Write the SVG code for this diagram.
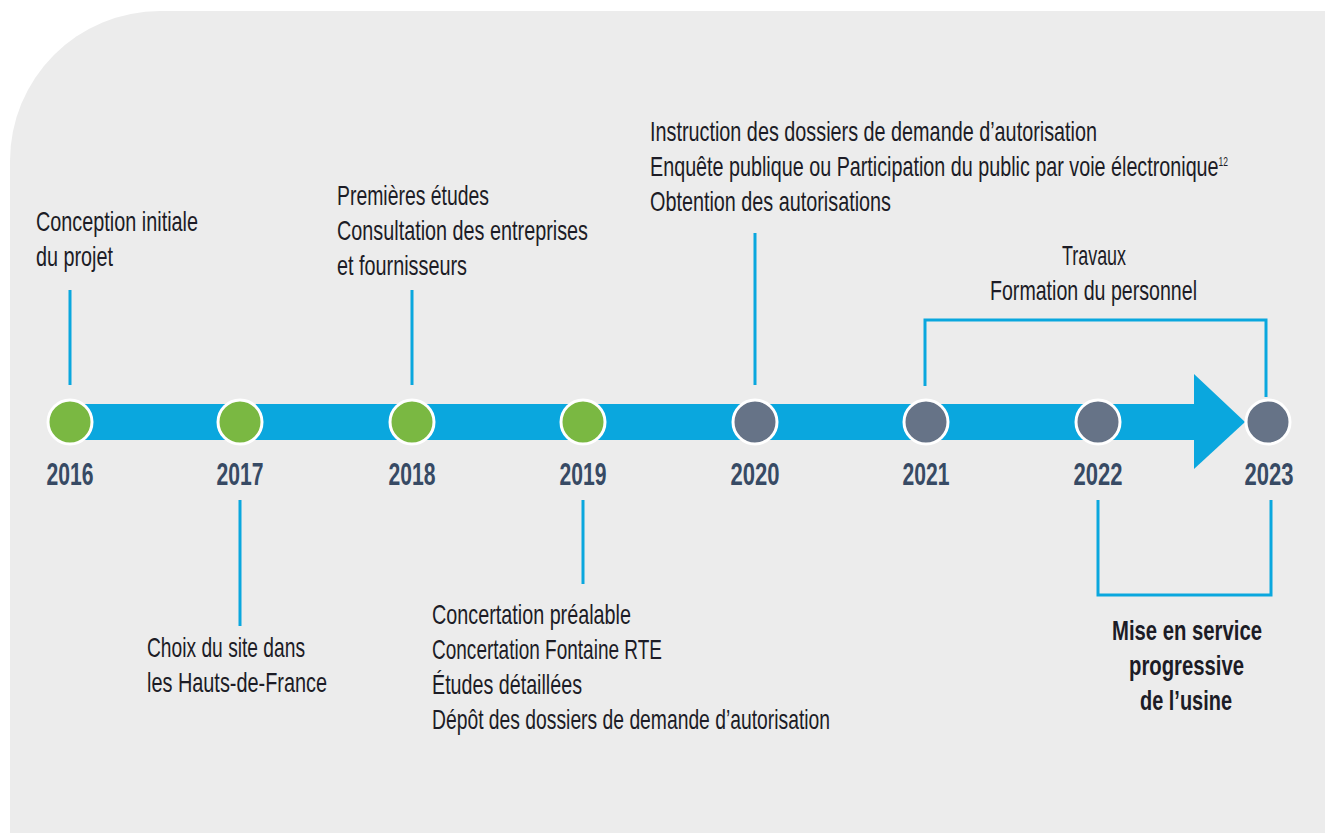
<svg xmlns="http://www.w3.org/2000/svg" width="1325" height="833" viewBox="0 0 1325 833">
  <style>
    .lbl { font-family: "Liberation Sans", Arial, sans-serif; font-size: 28px; fill: #1c1c26; }
    .bold { font-weight: bold; }
    .year { font-family: "Liberation Sans", Arial, sans-serif; font-size: 32px; font-weight: bold; fill: #374a64; text-anchor: middle; }
    .sup { font-size: 12px; }
    .link { fill: none; stroke: #0aa7de; stroke-width: 3; }
    .done { fill: #7ab842; stroke: #ffffff; stroke-width: 3; }
    .todo { fill: #667387; stroke: #ffffff; stroke-width: 3; }
  </style>

  <!-- panel background with rounded top-left corner -->
  <rect width="1325" height="833" fill="#ffffff"/>
  <path d="M10 833 V161 A150 150 0 0 1 160 11 H1325 V833 Z" fill="#ececec"/>

  <!-- timeline arrow -->
  <g id="timeline">
    <rect x="70" y="404" width="1126" height="36" fill="#0aa7de"/>
    <polygon points="1194,374 1245,422 1194,469" fill="#0aa7de"/>
  </g>

  <!-- connectors -->
  <g id="connectors">
    <line class="link" x1="70" y1="290" x2="70" y2="385"/>
    <line class="link" x1="412" y1="290" x2="412" y2="385"/>
    <line class="link" x1="755" y1="233" x2="755" y2="385"/>
    <line class="link" x1="240" y1="500" x2="240" y2="626"/>
    <line class="link" x1="583" y1="500" x2="583" y2="584"/>
    <path class="link" d="M925 386 V320 H1266 V397"/>
    <path class="link" d="M1098 500 V595 H1271 V500"/>
  </g>

  <!-- year nodes -->
  <g id="y2016">
    <circle class="done" cx="70" cy="422" r="22"/>
    <text class="year" x="70" y="485" textLength="47" lengthAdjust="spacingAndGlyphs">2016</text>
  </g>
  <g id="y2017">
    <circle class="done" cx="240" cy="422" r="22"/>
    <text class="year" x="240" y="485" textLength="47" lengthAdjust="spacingAndGlyphs">2017</text>
  </g>
  <g id="y2018">
    <circle class="done" cx="412" cy="422" r="22"/>
    <text class="year" x="412" y="485" textLength="47" lengthAdjust="spacingAndGlyphs">2018</text>
  </g>
  <g id="y2019">
    <circle class="done" cx="583" cy="422" r="22"/>
    <text class="year" x="583" y="485" textLength="47" lengthAdjust="spacingAndGlyphs">2019</text>
  </g>
  <g id="y2020">
    <circle class="todo" cx="755" cy="422" r="22"/>
    <text class="year" x="755" y="485" textLength="49" lengthAdjust="spacingAndGlyphs">2020</text>
  </g>
  <g id="y2021">
    <circle class="todo" cx="926" cy="422" r="22"/>
    <text class="year" x="926" y="485" textLength="47" lengthAdjust="spacingAndGlyphs">2021</text>
  </g>
  <g id="y2022">
    <circle class="todo" cx="1098" cy="422" r="22"/>
    <text class="year" x="1098" y="485" textLength="49" lengthAdjust="spacingAndGlyphs">2022</text>
  </g>
  <g id="y2023">
    <circle class="todo" cx="1268" cy="422" r="22"/>
    <text class="year" x="1269" y="485" textLength="49" lengthAdjust="spacingAndGlyphs">2023</text>
  </g>

  <!-- milestone labels -->
  <g id="m2016">
    <text class="lbl" x="36" y="231" textLength="162" lengthAdjust="spacingAndGlyphs">Conception initiale</text>
    <text class="lbl" x="36" y="266" textLength="77" lengthAdjust="spacingAndGlyphs">du projet</text>
  </g>
  <g id="m2017">
    <text class="lbl" x="147" y="657" textLength="158" lengthAdjust="spacingAndGlyphs">Choix du site dans</text>
    <text class="lbl" x="147" y="692" textLength="180" lengthAdjust="spacingAndGlyphs">les Hauts-de-France</text>
  </g>
  <g id="m2018">
    <text class="lbl" x="337" y="205" textLength="152" lengthAdjust="spacingAndGlyphs">Premières études</text>
    <text class="lbl" x="337" y="240" textLength="251" lengthAdjust="spacingAndGlyphs">Consultation des entreprises</text>
    <text class="lbl" x="337" y="275" textLength="130" lengthAdjust="spacingAndGlyphs">et fournisseurs</text>
  </g>
  <g id="m2019">
    <text class="lbl" x="432" y="624" textLength="199" lengthAdjust="spacingAndGlyphs">Concertation préalable</text>
    <text class="lbl" x="432" y="659" textLength="230" lengthAdjust="spacingAndGlyphs">Concertation Fontaine RTE</text>
    <text class="lbl" x="432" y="694" textLength="150" lengthAdjust="spacingAndGlyphs">Études détaillées</text>
    <text class="lbl" x="432" y="729" textLength="398" lengthAdjust="spacingAndGlyphs">Dépôt des dossiers de demande d’autorisation</text>
  </g>
  <g id="m2020">
    <text class="lbl" x="650" y="141" textLength="447" lengthAdjust="spacingAndGlyphs">Instruction des dossiers de demande d’autorisation</text>
    <text class="lbl" x="650" y="176" textLength="578" lengthAdjust="spacingAndGlyphs">Enquête publique ou Participation du public par voie électronique<tspan class="sup" dy="-10">12</tspan></text>
    <text class="lbl" x="650" y="211" textLength="241" lengthAdjust="spacingAndGlyphs">Obtention des autorisations</text>
  </g>
  <g id="m2021">
    <text class="lbl" x="1062" y="265" textLength="64" lengthAdjust="spacingAndGlyphs">Travaux</text>
    <text class="lbl" x="990" y="300" textLength="207" lengthAdjust="spacingAndGlyphs">Formation du personnel</text>
  </g>
  <g id="m2023">
    <text class="lbl bold" x="1112" y="640" textLength="150" lengthAdjust="spacingAndGlyphs">Mise en service</text>
    <text class="lbl bold" x="1129" y="675" textLength="115" lengthAdjust="spacingAndGlyphs">progressive</text>
    <text class="lbl bold" x="1140" y="710" textLength="92" lengthAdjust="spacingAndGlyphs">de l’usine</text>
  </g>
</svg>
